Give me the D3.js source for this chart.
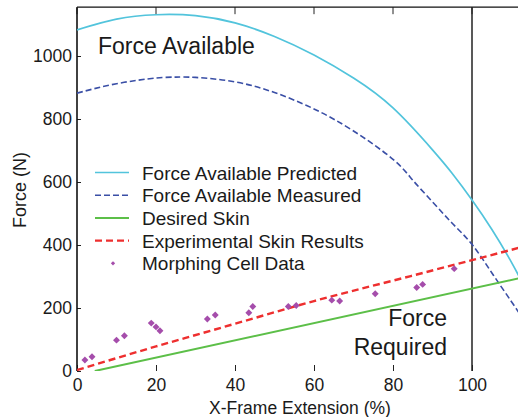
<!DOCTYPE html>
<html lang="en">
<head>
<meta charset="UTF-8">
<title>Force vs X-Frame Extension</title>
<script src="https://d3js.org/d3.v7.min.js"></script>
<style>
    body {margin: 0; background: #fff;}
    text {font-family: "Liberation Sans", Arial, sans-serif; fill: #1a1a1a;}
    .tick text {font-size: 17.5px;}
    .tick line {stroke: #222; stroke-width: 1;}
</style>
</head>
<body>
<div id="chart"></div>
<script>
    // values
    var predictedX = [0, 10, 20, 30, 40, 50, 60, 70, 80, 90, 95, 100, 105, 110, 114],
        predicted  = [1083, 1117, 1131, 1128, 1105, 1062, 1003, 930, 835, 702, 627, 543, 450, 345, 250];

    var measuredX = [0, 10, 20, 25, 30, 40, 50, 60, 70, 80, 85, 90, 95, 100, 105, 110, 114],
        measured  = [882, 912, 930, 933, 932, 918, 884, 832, 762, 672, 606, 537, 469, 402, 312, 220, 145];

    var desiredX = [4.5, 114],
        desired  = [0, 300];

    var experimentalX = [0, 20, 40, 60, 80, 100, 114],
        experimental  = [3, 78, 150, 222, 287, 352, 398];

    var cellX = [2, 3.8, 10, 12, 18.8, 20, 21, 33, 35, 43.5, 44.5, 53.5, 55.5, 64.5, 66.5, 75.5, 86, 87.5, 95.5],
        cellF = [35, 45, 98, 112, 152, 140, 128, 165, 178, 185, 205, 205, 208, 225, 222, 245, 265, 275, 325];

    var xTicks = [0, 20, 40, 60, 80, 100],
        yTicks = [0, 200, 400, 600, 800, 1000];

    var legendNames = ["Force Available Predicted", "Force Available Measured", "Desired Skin",
                       "Experimental Skin Results", "Morphing Cell Data"];

    var width = 518, height = 417;
    var x = d3.scaleLinear().domain([0, 100]).range([77, 472]);
    var y = d3.scaleLinear().domain([0, 1000]).range([371, 56]);
    var xMax = 118, yMax = 1155;

    var svg = d3.select("#chart").append("svg")
        .attr("width", width)
        .attr("height", height);

    svg.append("clipPath").attr("id", "plot")
        .append("rect")
        .attr("x", x(0)).attr("y", y(yMax))
        .attr("width", x(xMax) - x(0)).attr("height", y(0) - y(yMax));

    // axes
    var yAxis = svg.append("g")
        .attr("transform", "translate(" + x(0) + ",0)")
        .call(d3.axisLeft(y).tickValues(yTicks).tickFormat(d3.format("d"))
            .tickSizeInner(-4).tickSizeOuter(0).tickPadding(5));
    yAxis.select(".domain").remove();

    var xAxis = svg.append("g")
        .attr("transform", "translate(0," + y(0) + ")")
        .call(d3.axisBottom(x).tickValues(xTicks).tickSizeInner(-6).tickSizeOuter(0).tickPadding(8));
    xAxis.select(".domain").remove();

    // top ticks
    svg.append("g").selectAll("line")
        .data(xTicks)
        .enter().append("line")
        .attr("x1", function(d) {return x(d)}).attr("x2", function(d) {return x(d)})
        .attr("y1", y(yMax)).attr("y2", y(yMax) + 7)
        .attr("stroke", "#222");

    // frame
    svg.append("line")
        .attr("x1", x(0)).attr("x2", x(0)).attr("y1", y(yMax)).attr("y2", y(0))
        .attr("stroke", "#111").attr("stroke-width", 1.6);
    svg.append("line")
        .attr("x1", x(0)).attr("x2", x(xMax)).attr("y1", y(yMax)).attr("y2", y(yMax))
        .attr("stroke", "#111").attr("stroke-width", 1.4);
    svg.append("line")
        .attr("x1", x(100)).attr("x2", x(100)).attr("y1", y(yMax)).attr("y2", y(0))
        .attr("stroke", "#222").attr("stroke-width", 1.5);

    var plot = svg.append("g").attr("clip-path", "url(#plot)");

    function curve(xs, ys) {
        return d3.line()
            .x(function(d, i) {return x(xs[i])})
            .y(function(d) {return y(d)})
            .curve(d3.curveNatural)(ys);
    }

    plot.append("path").attr("d", curve(predictedX, predicted))
        .attr("fill", "none").attr("stroke", "#52c4dc").attr("stroke-width", 1.7);
    plot.append("path").attr("d", curve(measuredX, measured))
        .attr("fill", "none").attr("stroke", "#3a4fa6").attr("stroke-width", 1.6)
        .attr("stroke-dasharray", "6,3");
    plot.append("path").attr("d", curve(desiredX, desired))
        .attr("fill", "none").attr("stroke", "#5cbf48").attr("stroke-width", 2);
    plot.append("path").attr("d", curve(experimentalX, experimental))
        .attr("fill", "none").attr("stroke", "#ee2f2f").attr("stroke-width", 2.4)
        .attr("stroke-dasharray", "7,4");

    plot.selectAll(".cell")
        .data(cellF)
        .enter().append("path")
        .attr("class", "cell")
        .attr("transform", function(d, i) {return "translate(" + x(cellX[i]) + "," + y(d) + ") rotate(45)"})
        .attr("d", d3.symbol(d3.symbolSquare, 24))
        .attr("fill", "#a54dab");

    // annotations
    svg.append("text").attr("x", 98).attr("y", 54)
        .style("font-size", "23px").text("Force Available");
    svg.append("text").attr("x", 447).attr("y", 326).attr("text-anchor", "end")
        .style("font-size", "23px").text("Force");
    svg.append("text").attr("x", 447).attr("y", 355).attr("text-anchor", "end")
        .style("font-size", "23px").text("Required");

    // axis labels
    svg.append("text").attr("x", 300).attr("y", 414).attr("text-anchor", "middle")
        .style("font-size", "17.5px").text("X-Frame Extension (%)");
    svg.append("text").attr("transform", "translate(26,190) rotate(-90)").attr("text-anchor", "middle")
        .style("font-size", "18px").text("Force (N)");

    // legend
    var legendStyles = [
        {stroke: "#52c4dc", width: 1.7, dash: null},
        {stroke: "#3a4fa6", width: 1.6, dash: "6,3"},
        {stroke: "#5cbf48", width: 2, dash: null},
        {stroke: "#ee2f2f", width: 2.4, dash: "7,4"},
        null
    ];
    var legend = svg.append("g").selectAll("g")
        .data(legendNames)
        .enter().append("g")
        .attr("transform", function(d, i) {return "translate(95," + (172.5 + i * 22.7) + ")"});

    legend.each(function(d, i) {
        var g = d3.select(this), s = legendStyles[i];
        if (s) {
            g.append("line").attr("x1", 0).attr("x2", 34).attr("y1", 0).attr("y2", 0)
                .attr("stroke", s.stroke).attr("stroke-width", s.width)
                .attr("stroke-dasharray", s.dash);
        } else {
            g.append("path").attr("transform", "translate(18,0) rotate(45)")
                .attr("d", d3.symbol(d3.symbolSquare, 9)).attr("fill", "#a54dab");
        }
        g.append("text").attr("x", 47).attr("y", 7).style("font-size", "19px").text(d);
    });
</script>
</body>
</html>
